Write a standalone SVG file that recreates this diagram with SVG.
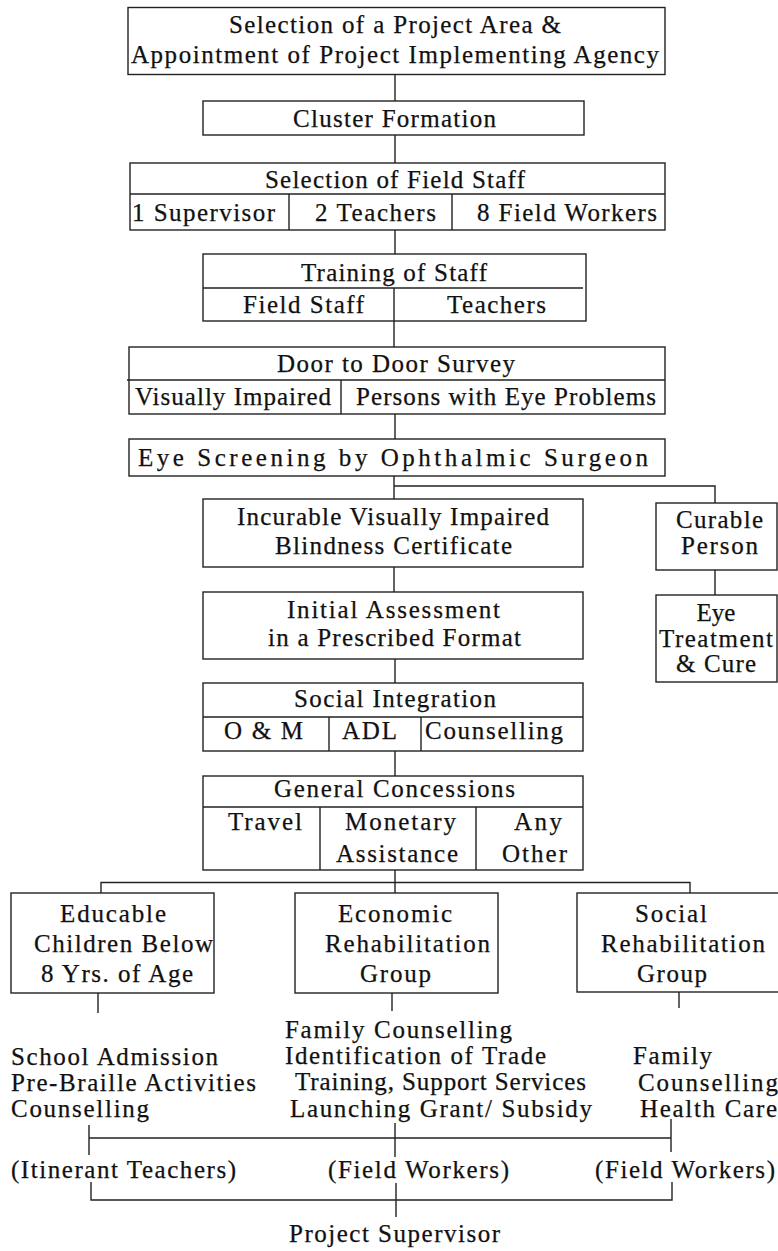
<svg xmlns="http://www.w3.org/2000/svg" width="778" height="1251" viewBox="0 0 778 1251">
<style>
text{font-family:"Liberation Serif","Times New Roman",serif;font-size:25px;fill:#111;stroke:#111;stroke-width:0.25}
rect{fill:#fff;stroke:#222;stroke-width:1.4}
line,path{stroke:#222;stroke-width:1.4;fill:none}
</style>
<rect x="0" y="0" width="778" height="1251" style="fill:#fff;stroke:none"/>
<g id="connectors">
<line x1="395" y1="74.5" x2="395" y2="101"/>
<line x1="395" y1="135" x2="395" y2="163"/>
<line x1="395" y1="230" x2="395" y2="254"/>
<line x1="394" y1="321" x2="394" y2="347"/>
<line x1="395" y1="414" x2="395" y2="439"/>
<path d="M394 476V499M394 486H715V503"/>
<line x1="394" y1="567" x2="394" y2="592"/>
<line x1="715" y1="570" x2="715" y2="595"/>
<line x1="395" y1="659" x2="395" y2="683"/>
<line x1="395" y1="751" x2="395" y2="776"/>
<path d="M395 870V893M101 893V882.5H690V893"/>
<line x1="98" y1="993" x2="98" y2="1013"/>
<line x1="392" y1="993" x2="392" y2="1011"/>
<line x1="679" y1="992" x2="679" y2="1008"/>
<path d="M89 1125V1155M89 1138H671M395 1123V1157M671 1119V1152"/>
<path d="M91 1182V1200H672V1182M396 1183V1217"/>
</g>
<g id="n1">
<rect x="128" y="7.5" width="537" height="67"/>
<text x="229" y="33" textLength="332">Selection of a Project Area &amp;</text>
<text x="131" y="63" textLength="528">Appointment of Project Implementing Agency</text>
</g>
<g id="n2">
<rect x="203" y="101" width="381" height="34"/>
<text x="293" y="127" textLength="203">Cluster Formation</text>
</g>
<g id="n3">
<rect x="130" y="163" width="535" height="67"/>
<path d="M130 194H665M289 194V230M452 194V230"/>
<text x="265" y="188" textLength="260">Selection of Field Staff</text>
<text x="132" y="221" textLength="143">1 Supervisor</text>
<text x="315" y="221" textLength="121">2 Teachers</text>
<text x="477" y="221" textLength="180">8 Field Workers</text>
</g>
<g id="n4">
<rect x="203" y="254" width="383" height="67"/>
<path d="M203 288H583M394 288V321"/>
<text x="301" y="281" textLength="186">Training of Staff</text>
<text x="243" y="313" textLength="121">Field Staff</text>
<text x="447" y="313" textLength="99">Teachers</text>
</g>
<g id="n5">
<rect x="129" y="347" width="536" height="67"/>
<path d="M127 380H665M341 380V414"/>
<text x="277" y="372" textLength="238">Door to Door Survey</text>
<text x="135" y="405" textLength="196">Visually Impaired</text>
<text x="356" y="405" textLength="300">Persons with Eye Problems</text>
</g>
<g id="n6">
<rect x="129" y="439" width="536" height="37"/>
<text x="138" y="466" textLength="510">Eye Screening by Ophthalmic Surgeon</text>
</g>
<g id="n7">
<rect x="203" y="499" width="380" height="68"/>
<text x="237" y="525" textLength="312">Incurable Visually Impaired</text>
<text x="275" y="554" textLength="237">Blindness Certificate</text>
</g>
<g id="n8">
<rect x="656" y="503" width="121" height="67"/>
<text x="676" y="528" textLength="87">Curable</text>
<text x="681" y="554" textLength="77">Person</text>
</g>
<g id="n9">
<rect x="656" y="595" width="121" height="87"/>
<text x="716" y="621" text-anchor="middle">Eye</text>
<text x="659" y="647" textLength="114">Treatment</text>
<text x="676" y="672" textLength="80">&amp; Cure</text>
</g>
<g id="n10">
<rect x="203" y="592" width="380" height="67"/>
<text x="287" y="618" textLength="213">Initial Assessment</text>
<text x="268" y="646" textLength="253">in a Prescribed Format</text>
</g>
<g id="n11">
<rect x="203" y="683" width="380" height="68"/>
<path d="M203 717H583M329 717V751M421 717V751"/>
<text x="294" y="707" textLength="202">Social Integration</text>
<text x="224" y="739" textLength="79">O &amp; M</text>
<text x="342" y="739" textLength="55">ADL</text>
<text x="425" y="739" textLength="138">Counselling</text>
</g>
<g id="n12">
<rect x="203" y="776" width="380" height="94"/>
<path d="M203 807H583M320 807V870M476 807V870"/>
<text x="274" y="797" textLength="241">General Concessions</text>
<text x="228" y="830" textLength="74">Travel</text>
<text x="345" y="830" textLength="111">Monetary</text>
<text x="336" y="862" textLength="122">Assistance</text>
<text x="514" y="830" textLength="48">Any</text>
<text x="502" y="862" textLength="65">Other</text>
</g>
<g id="n13">
<rect x="11" y="893" width="203" height="100"/>
<text x="60" y="922" textLength="106">Educable</text>
<text x="34" y="952" textLength="179">Children Below</text>
<text x="41" y="982" textLength="152">8 Yrs. of Age</text>
</g>
<g id="n14">
<rect x="295" y="893" width="203" height="100"/>
<text x="338" y="922" textLength="114">Economic</text>
<text x="325" y="952" textLength="165">Rehabilitation</text>
<text x="360" y="982" textLength="71">Group</text>
</g>
<g id="n15">
<rect x="577" y="893" width="210" height="99"/>
<text x="635" y="922" textLength="72">Social</text>
<text x="601" y="952" textLength="164">Rehabilitation</text>
<text x="637" y="982" textLength="70">Group</text>
</g>
<g id="n16">
<text x="11" y="1065" textLength="207">School Admission</text>
<text x="11" y="1091" textLength="245">Pre-Braille Activities</text>
<text x="11" y="1117" textLength="138">Counselling</text>
</g>
<g id="n17">
<text x="285" y="1038" textLength="227">Family Counselling</text>
<text x="285" y="1064" textLength="261">Identification of Trade</text>
<text x="295" y="1090" textLength="291">Training, Support Services</text>
<text x="290" y="1117" textLength="302">Launching Grant/ Subsidy</text>
</g>
<g id="n18">
<text x="633" y="1064" textLength="79">Family</text>
<text x="638" y="1091" textLength="140">Counselling</text>
<text x="640" y="1117" textLength="137">Health Care</text>
</g>
<g id="n19">
<text x="11" y="1178" textLength="225">(Itinerant Teachers)</text>
</g>
<g id="n20">
<text x="328" y="1178" textLength="181">(Field Workers)</text>
</g>
<g id="n21">
<text x="595" y="1178" textLength="180">(Field Workers)</text>
</g>
<g id="n22">
<text x="289" y="1242" textLength="211">Project Supervisor</text>
</g>
</svg>
